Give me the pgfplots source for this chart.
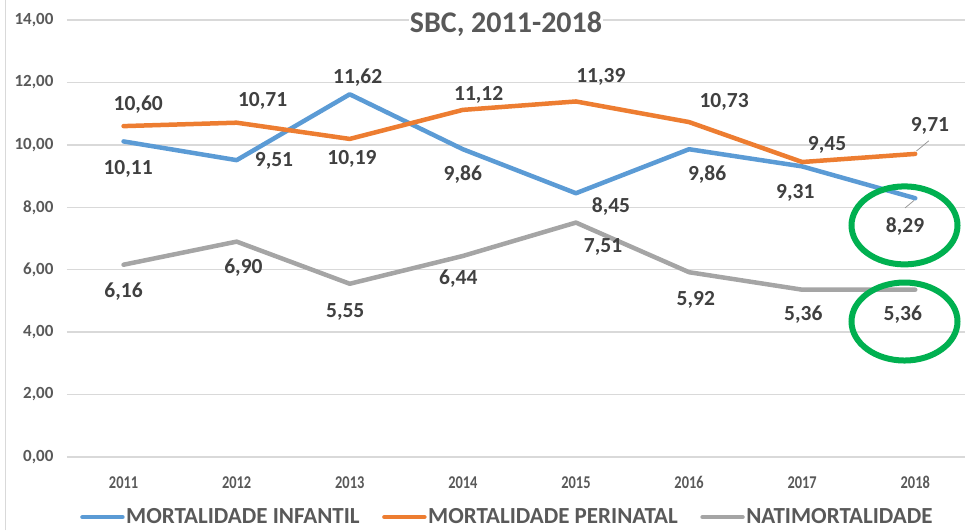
\documentclass[border=0pt]{standalone}
\usepackage{fontspec}
\setmainfont{Carlito}
\newfontfamily\narrowfont[FakeStretch=0.8]{Carlito}
\usepackage{pgfplots}
\pgfplotsset{compat=1.18}
\definecolor{cblue}{HTML}{5B9BD5}
\definecolor{corange}{HTML}{ED7D31}
\definecolor{cgray}{HTML}{A5A5A5}
\definecolor{txt}{HTML}{595959}
\definecolor{lbltxt}{HTML}{404040}
\definecolor{gridc}{HTML}{D9D9D9}
\definecolor{cgreen}{HTML}{00B050}

% data label at axis position
\newcommand{\lbl}[3]{\node[text=lbltxt, font=\fontsize{21.5}{24}\selectfont\bfseries, inner sep=0pt] at (axis cs:#1,#2) {#3};}

\begin{document}
\begin{tikzpicture}
\path[use as bounding box] (0,0) rectangle (965pt,530pt);
\draw[gridc, line width=1.2pt] (5.5pt,0) -- (5.5pt,530pt);
\begin{axis}[
  at={(67pt,73pt)}, anchor=south west,
  scale only axis, width=898pt, height=437pt,
  xmin=-0.5, xmax=7.44, ymin=0, ymax=14,
  axis line style={draw=none},
  ytick={0,2,...,14}, ymajorgrids,
  grid style={gridc, line width=1.3pt},
  xtick={0,...,7}, xticklabels={2011,2012,2013,2014,2015,2016,2017,2018},
  major tick length=0pt,
  /pgf/number format/.cd, fixed, fixed zerofill, precision=2, use comma, 1000 sep={}, assume math mode=true,
  /pgfplots/.cd,
  yticklabel style={font=\fontsize{17}{18}\selectfont\bfseries, text=txt, xshift=-10pt},
  xticklabel style={font=\fontsize{18}{20}\narrowfont\bfseries, text=txt, yshift=-16pt},
  legend columns=3,
  legend style={at={(0.0145,-0.1375)}, anchor=west, draw=none, fill=none,
    font=\fontsize{23}{25}\selectfont\bfseries, text=txt, inner sep=0pt,
    nodes={inner xsep=1.5pt, inner ysep=0pt},
    /tikz/every even column/.append style={column sep=21pt}},
  legend image code/.code={\draw[#1] (0pt,0pt) -- (40pt,0pt);},
  every axis plot/.append style={line width=4.5pt, line join=round, line cap=round, no markers},
]
\addplot[cblue] coordinates {
  (0,10.11) (1,9.51) (2,11.62) (3,9.86) (4,8.45) (5,9.86) (6,9.31) (7,8.29)
};
\addlegendentry{MORTALIDADE INFANTIL}
\addplot[corange] coordinates {
  (0,10.60) (1,10.71) (2,10.19) (3,11.12) (4,11.39) (5,10.73) (6,9.45) (7,9.71)
};
\addlegendentry{MORTALIDADE PERINATAL}
\addplot[cgray] coordinates {
  (0,6.16) (1,6.90) (2,5.55) (3,6.44) (4,7.51) (5,5.92) (6,5.36) (7,5.36)
};
\addlegendentry{NATIMORTALIDADE}

% leader lines
\draw[gray!80, line width=0.8pt] (axis cs:7.01,9.80) -- (axis cs:7.12,10.13);
\draw[gray!80, line width=0.8pt] (axis cs:6.99,8.22) -- (axis cs:6.91,7.98);

% labels: infantil
\lbl{0.04}{9.22}{10,11}
\lbl{1.33}{9.47}{9,51}
\lbl{2.07}{12.17}{11,62}
\lbl{3.00}{9.06}{9,86}
\lbl{4.31}{8.03}{8,45}
\lbl{5.16}{9.06}{9,86}
\lbl{5.94}{8.45}{9,31}
\lbl{6.91}{7.39}{8,29}
% perinatal
\lbl{0.13}{11.30}{10,60}
\lbl{1.23}{11.40}{10,71}
\lbl{2.02}{9.54}{10,19}
\lbl{3.14}{11.59}{11,12}
\lbl{4.22}{12.17}{11,39}
\lbl{5.31}{11.37}{10,73}
\lbl{6.22}{9.99}{9,45}
\lbl{7.13}{10.60}{9,71}
% natimortalidade
\lbl{0.00}{5.30}{6,16}
\lbl{1.06}{6.07}{6,90}
\lbl{1.96}{4.66}{5,55}
\lbl{2.96}{5.72}{6,44}
\lbl{4.24}{6.74}{7,51}
\lbl{5.06}{5.04}{5,92}
\lbl{6.01}{4.56}{5,36}
\lbl{6.89}{4.56}{5,36}

% highlight ellipses
\draw[cgreen, line width=6pt] (axis cs:6.905,7.42) ellipse [x radius=53pt, y radius=39pt];
\draw[cgreen, line width=6pt] (axis cs:6.905,4.34) ellipse [x radius=53pt, y radius=39pt];
\end{axis}
\node[anchor=base, fill=white, inner xsep=1pt, inner ysep=3pt, text=txt,
  font=\fontsize{30}{34}\selectfont\bfseries] at (506pt,497pt) {SBC, 2011-2018};
\end{tikzpicture}
\end{document}
